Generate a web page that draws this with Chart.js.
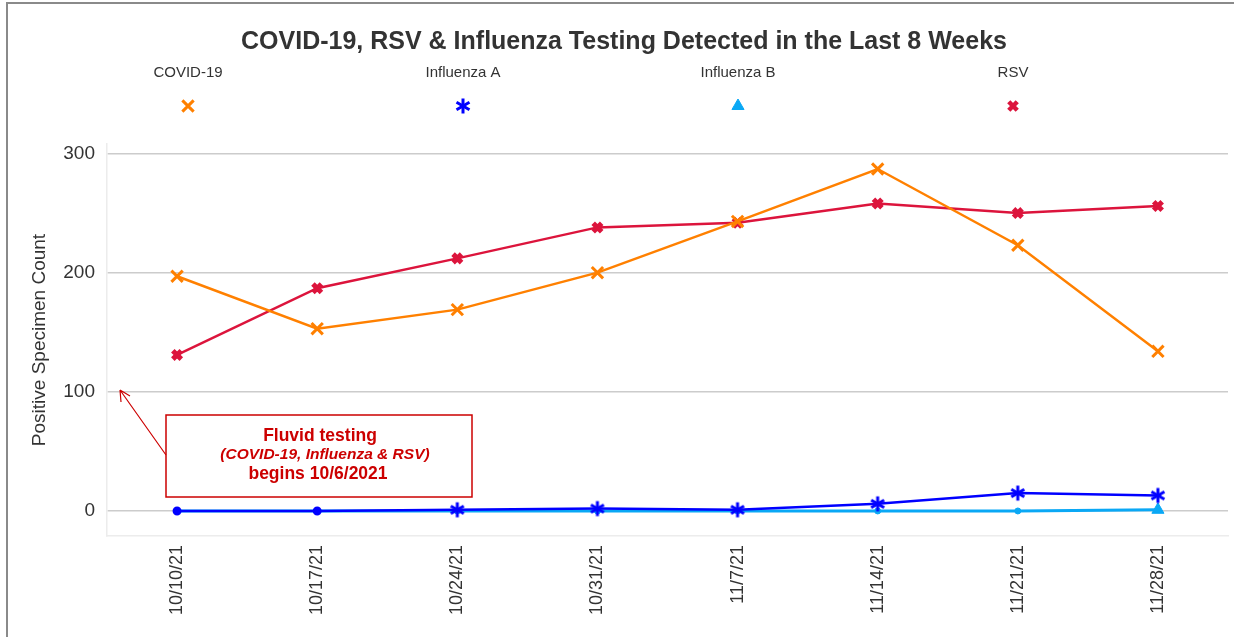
<!DOCTYPE html>
<html>
<head>
<meta charset="utf-8">
<script src="https://cdn.jsdelivr.net/npm/chart.js@4"></script>
<style>
  body { margin: 0; background: #fff; overflow: hidden; }
  #wrap { position: absolute; left: 6px; top: 2px; width: 1234px; height: 635px;
          border-left: 2px solid #8a8a8a; border-top: 2px solid #8a8a8a; }
  canvas { display: block; }
</style>
</head>
<body>
<div id="wrap"><canvas id="myChart" width="1232" height="633"></canvas></div>
<script>
// weekly counts
const weeks = ['10/10/21', '10/17/21', '10/24/21', '10/31/21', '11/7/21', '11/14/21', '11/21/21', '11/28/21'];
const covid = [197, 153, 169, 200, 243, 287, 223, 134];
const fluA = [0, 0, 1, 2, 1, 6, 15, 13];
const fluB = [0, 0, 0, 0, 0, 0, 0, 1];
const rsv = [131, 187, 212, 238, 242, 258, 250, 256];
const yTicks = [0, 100, 200, 300];

const FONT = 'Arial, "Liberation Sans", sans-serif';
const ctx = document.getElementById('myChart');

// 6 spoke asterisk like the excel marker
function asterisk(size, color) {
    const cv = document.createElement('canvas');
    cv.width = size; cv.height = size;
    const g = cv.getContext('2d');
    const r = size / 2 - 1.5;
    g.strokeStyle = color;
    g.lineWidth = 3;
    g.translate(size / 2, size / 2);
    [90, 30, 150].forEach(a => {
        const t = a * Math.PI / 180;
        g.beginPath();
        g.moveTo(-r * Math.cos(t), -r * Math.sin(t));
        g.lineTo(r * Math.cos(t), r * Math.sin(t));
        g.stroke();
    });
    return cv;
}
const star = asterisk(18, '#0000ff');

// legend drawn as label over marker, four columns
const topLegend = {
    id: 'topLegend',
    afterDraw(chart) {
        const c = chart.ctx;
        c.save();
        chart.data.datasets.forEach((ds, i) => {
            const x = 180 + i * 275;
            c.fillStyle = '#333';
            c.font = '15px ' + FONT;
            c.textAlign = 'center';
            c.textBaseline = 'middle';
            c.fillText(ds.label, x, 69);
            const m = ds.legendMarker;
            c.strokeStyle = ds.borderColor;
            c.fillStyle = ds.borderColor;
            c.lineWidth = m.borderWidth;
            Chart.helpers.drawPoint(c, { pointStyle: m.style, radius: m.radius, borderWidth: m.borderWidth, rotation: 0 }, x, 102);
        });
        c.restore();
    }
};

// "Fluvid testing" call-out box with arrow
const callout = {
    id: 'callout',
    afterDraw(chart) {
        const c = chart.ctx;
        const red = '#cc0000';
        c.save();
        c.strokeStyle = red;
        c.lineWidth = 1.5;
        c.strokeRect(158, 411, 306, 82);
        // arrow
        c.lineWidth = 1.2;
        c.beginPath();
        c.moveTo(158, 451);
        c.lineTo(112, 386);
        c.moveTo(112, 386);
        c.lineTo(113, 398);
        c.moveTo(112, 386);
        c.lineTo(122, 392);
        c.stroke();
        c.fillStyle = red;
        c.textAlign = 'center';
        c.textBaseline = 'middle';
        c.font = 'bold 17.5px ' + FONT;
        c.fillText('Fluvid testing', 312, 432);
        c.font = 'italic bold 15.5px ' + FONT;
        c.fillText('(COVID-19, Influenza & RSV)', 317, 451);
        c.font = 'bold 17.5px ' + FONT;
        c.fillText('begins 10/6/2021', 310, 470);
        c.restore();
    }
};

const zeroDot = (style) => (p) => p.raw === 0 ? 'circle' : style;
const zeroRad = (r) => (p) => p.raw === 0 ? 3 : r;

var myChart = new Chart(ctx, {
    type: 'line',
    data: {
        labels: weeks,
        datasets: [{
            label: 'COVID-19',
            data: covid,
            borderColor: '#ff8000',
            backgroundColor: '#ff8000',
            borderWidth: 2.5,
            pointStyle: 'crossRot',
            pointRadius: 8,
            pointBorderWidth: 3,
            legendMarker: { style: 'crossRot', radius: 8, borderWidth: 3 },
        }, {
            label: 'Influenza A',
            data: fluA,
            borderColor: '#0000ff',
            backgroundColor: '#0000ff',
            borderWidth: 2.5,
            pointStyle: zeroDot(star),
            pointRadius: zeroRad(9),
            pointBorderWidth: 3,
            legendMarker: { style: star, radius: 9, borderWidth: 3 },
        }, {
            label: 'Influenza B',
            data: fluB,
            borderColor: '#0aa8f5',
            backgroundColor: '#0aa8f5',
            borderWidth: 3,
            pointStyle: zeroDot('triangle'),
            pointRadius: zeroRad(7),
            pointBorderWidth: 1,
            legendMarker: { style: 'triangle', radius: 7, borderWidth: 1 },
        }, {
            label: 'RSV',
            data: rsv,
            borderColor: '#dc143c',
            backgroundColor: '#dc143c',
            borderWidth: 2.5,
            pointStyle: 'crossRot',
            pointRadius: 6,
            pointBorderWidth: 5,
            legendMarker: { style: 'crossRot', radius: 6, borderWidth: 4.5 },
        }]
    },
    options: {
        responsive: false,
        animation: false,
        layout: { padding: { left: 0, right: 0, top: 0, bottom: 0 } },
        plugins: {
            legend: { display: false },
            tooltip: { enabled: false },
            title: {
                display: true,
                text: 'COVID-19, RSV & Influenza Testing Detected in the Last 8 Weeks',
                color: '#333',
                font: { family: FONT, size: 25, weight: 'bold' },
                padding: { top: 23, bottom: 87 },
            },
        },
        scales: {
            x: {
                offset: true,
                grid: { display: false, drawTicks: false },
                border: { color: '#ececec', width: 1.5 },
                ticks: {
                    color: '#333',
                    font: { family: FONT, size: 18 },
                    minRotation: 90,
                    maxRotation: 90,
                    padding: 9,
                },
                afterFit(scale) { scale.height = 101; },
            },
            y: {
                min: -21,
                max: 308,
                grid: { color: '#cccccc', lineWidth: 1.5, drawTicks: false },
                border: { color: '#ececec', width: 1.5 },
                afterBuildTicks(scale) { scale.ticks = yTicks.map(v => ({ value: v })); },
                ticks: {
                    color: '#333',
                    font: { family: FONT, size: 19 },
                    padding: 12,
                },
                title: {
                    display: true,
                    text: 'Positive Specimen Count',
                    color: '#333',
                    font: { family: FONT, size: 19 },
                    padding: { top: 20, bottom: 0 },
                },
                afterFit(scale) { scale.width = 99; },
            },
        },
    },
    plugins: [topLegend, callout],
});
</script>
</body>
</html>
